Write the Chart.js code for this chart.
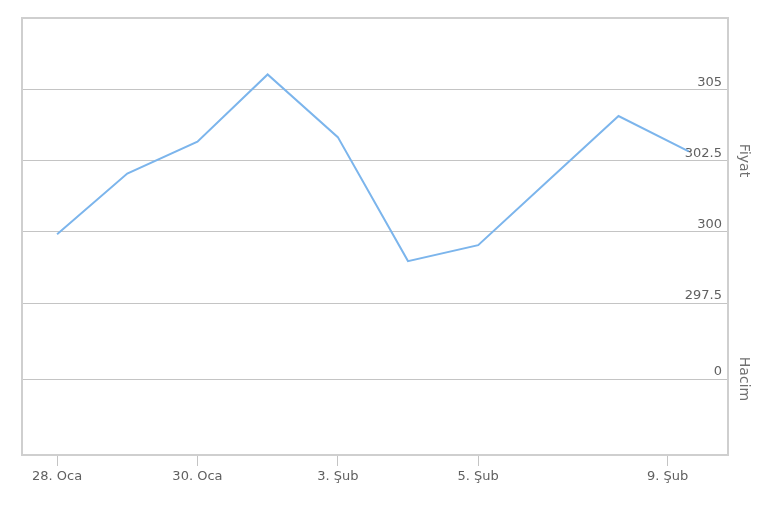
<!DOCTYPE html>
<html>
<head>
<meta charset="utf-8">
<script src="https://cdn.jsdelivr.net/npm/chart.js@4/dist/chart.umd.min.js"></script>
<style>
  html, body { margin: 0; padding: 0; background: #ffffff; }
  #wrap { width: 770px; height: 509px; }
</style>
</head>
<body>
<div id="wrap"><canvas id="c" width="770" height="509"></canvas></div>
<script>
// Data
const categories = ['28. Oca', '29. Oca', '30. Oca', '2. Şub', '3. Şub', '4. Şub', '5. Şub', '6. Şub', '9. Şub', '10. Şub'];
const priceValues = [299.91, 302.04, 303.16, 305.52, 303.32, 298.97, 299.53, 301.80, 304.06, 302.82];
const xTickPositions = [0, 2, 4, 6, 8.7];
const xTickLabels = ['28. Oca', '30. Oca', '3. Şub', '5. Şub', '9. Şub'];
const priceTicks = [297.5, 300, 302.5, 305];
const volumeTicks = [0];

const FONT = 'DejaVu Sans';
const GRID = '#c4c4c4';

const framePlugin = {
  id: 'frame',
  afterDraw(chart) {
    const a = chart.chartArea;
    const ctx = chart.ctx;
    ctx.save();
    ctx.strokeStyle = '#cfcfcf';
    ctx.lineWidth = 2;
    ctx.strokeRect(a.left, a.top, a.right - a.left, a.bottom - a.top);
    ctx.restore();
  }
};

const fmt = v => (Math.round(v * 10) % 10 !== 0 ? v.toFixed(1) : String(Math.round(v)));

new Chart(document.getElementById('c'), {
  type: 'line',
  data: {
    datasets: [{
      label: 'Fiyat',
      data: priceValues.map((v, i) => ({ x: i, y: v })),
      borderColor: '#7cb5ec',
      borderWidth: 2,
      pointRadius: 0,
      tension: 0,
      fill: false,
      yAxisID: 'y'
    }]
  },
  plugins: [framePlugin],
  options: {
    responsive: false,
    animation: false,
    events: [],
    layout: { padding: { top: 18, left: 22, right: 18, bottom: 0 } },
    plugins: { legend: { display: false }, tooltip: { enabled: false } },
    scales: {
      x: {
        type: 'linear',
        min: -0.5,
        max: 9.56,
        afterBuildTicks: s => { s.ticks = xTickPositions.map(v => ({ value: v })); },
        afterFit: s => { s.height = 54; },
        grid: { drawOnChartArea: false, drawTicks: true, tickLength: 11, color: GRID },
        border: { display: false },
        ticks: {
          color: '#606060',
          font: { family: FONT, size: 13 },
          padding: 3,
          maxRotation: 0,
          autoSkip: false,
          callback: (v, i) => xTickLabels[i]
        }
      },
      y: {
        type: 'linear',
        position: 'right',
        stack: 'panes',
        stackWeight: 285,
        min: 297.5,
        max: 307.5,
        afterBuildTicks: s => { s.ticks = priceTicks.map(v => ({ value: v })); },
        afterFit: s => { s.width = 24; },
        grid: { color: GRID, drawTicks: false },
        border: { display: false },
        ticks: {
          mirror: true,
          padding: -6,
          labelOffset: -7,
          color: '#606060',
          font: { family: FONT, size: 13 },
          callback: v => fmt(v)
        },
        title: { display: true, text: 'Fiyat', color: '#707070', font: { family: FONT, size: 14 }, padding: 0 }
      },
      y2: {
        type: 'linear',
        position: 'right',
        stack: 'panes',
        stackWeight: 152,
        min: -1,
        max: 1,
        afterBuildTicks: s => { s.ticks = volumeTicks.map(v => ({ value: v })); },
        afterFit: s => { s.width = 24; },
        grid: { color: GRID, drawTicks: false },
        border: { display: false },
        ticks: {
          mirror: true,
          padding: -6,
          labelOffset: -7,
          color: '#606060',
          font: { family: FONT, size: 13 },
          callback: v => fmt(v)
        },
        title: { display: true, text: 'Hacim', color: '#707070', font: { family: FONT, size: 14 }, padding: 0 }
      }
    }
  }
});
</script>
</body>
</html>
